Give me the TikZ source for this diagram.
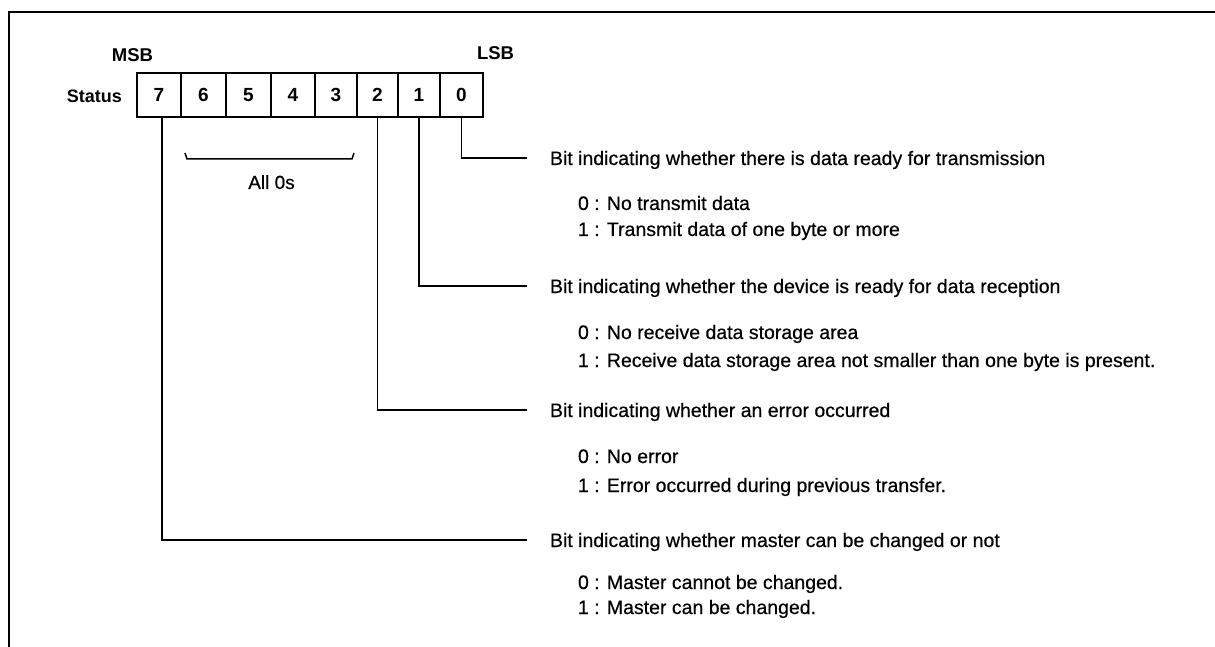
\documentclass[tikz,border=0pt]{standalone}
\usepackage{fontspec}
\setmainfont{Liberation Sans}
\newfontfamily\scanfont{Liberation Sans}[FakeBold=0.5]
\begin{document}
\begin{tikzpicture}[x=1pt,y=-1pt,
 every node/.style={inner sep=0pt, outer sep=0pt},
 txt/.style={anchor=west, font=\fontsize{19.5}{22}\scanfont, text height=14pt, text depth=0pt},
 lab/.style={font=\fontsize{18.5}{22}\selectfont\bfseries, text height=13.5pt, text depth=0pt},
 cell/.style={draw, line width=1.3pt, minimum height=44pt, font=\fontsize{19}{22}\selectfont\bfseries, text height=13.5pt, text depth=0pt},
 conn/.style={line width=1.8pt},
 frame/.style={line width=2.6pt}]
\useasboundingbox (0,0) rectangle (1215,647);
% frame (top and left edges visible)
\coordinate (fbl) at (9,647);
\coordinate (ftl) at (9,12);
\coordinate (ftr) at (1215,12);
\draw[frame] (fbl) -- (ftl) -- (ftr);
% register cells
\node[cell, minimum width=44pt] (c7) at (159,95) {7};
\node[cell, minimum width=45pt] (c6) at (203.5,95) {6};
\node[cell, minimum width=45pt] (c5) at (248.5,95) {5};
\node[cell, minimum width=44pt] (c4) at (293,95) {4};
\node[cell, minimum width=42pt] (c3) at (336,95) {3};
\node[cell, minimum width=41pt] (c2) at (377.5,95) {2};
\node[cell, minimum width=42pt] (c1) at (419,95) {1};
\node[cell, minimum width=43pt] (c0) at (461.5,95) {0};
\draw[line width=2.8pt] (c7.north west) rectangle (c0.south east);
% labels
\node[lab] (msb) at (132.5,55) {MSB};
\node[lab] (lsb) at (495.5,53) {LSB};
\node[lab, anchor=east, font=\fontsize{18}{22}\selectfont\bfseries] (status) at (122,96) {Status};
% brace for bits 6..3
\coordinate (bra) at (185,153);
\coordinate (brb) at (187,159);
\coordinate (brc) at (352,159);
\coordinate (brd) at (354,153);
\draw[conn, line width=1.5pt] (bra) -- (brb) -- (brc) -- (brd);
\node[txt, anchor=center, font=\fontsize{19}{22}\scanfont] (all0) at (271.5,182) {All 0s};
% descriptions
\node[txt] (h0) at (550,158) {Bit indicating whether there is data ready for transmission};
\node[txt] (h0a) at (578,203) {0 : No transmit data};
\node[txt] (h0b) at (578,229) {1 : Transmit data of one byte or more};
\node[txt] (h1) at (550,286) {Bit indicating whether the device is ready for data reception};
\node[txt] (h1a) at (578,332) {0 : No receive data storage area};
\node[txt] (h1b) at (578,360) {1 : Receive data storage area not smaller than one byte is present.};
\node[txt] (h2) at (550,410) {Bit indicating whether an error occurred};
\node[txt] (h2a) at (578,456) {0 : No error};
\node[txt] (h2b) at (578,485) {1 : Error occurred during previous transfer.};
\node[txt] (h7) at (550,540) {Bit indicating whether master can be changed or not};
\node[txt] (h7a) at (578,582) {0 : Master cannot be changed.};
\node[txt] (h7b) at (578,607) {1 : Master can be changed.};
% connectors
\draw[conn] (c0.south) |- ([xshift=-23pt]h0.west);
\draw[conn] (c1.south) |- ([xshift=-23pt]h1.west);
\draw[conn] (c2.south) |- ([xshift=-23pt]h2.west);
\draw[conn] ([xshift=3pt]c7.south) |- ([xshift=-23pt]h7.west);
\end{tikzpicture}
\end{document}
